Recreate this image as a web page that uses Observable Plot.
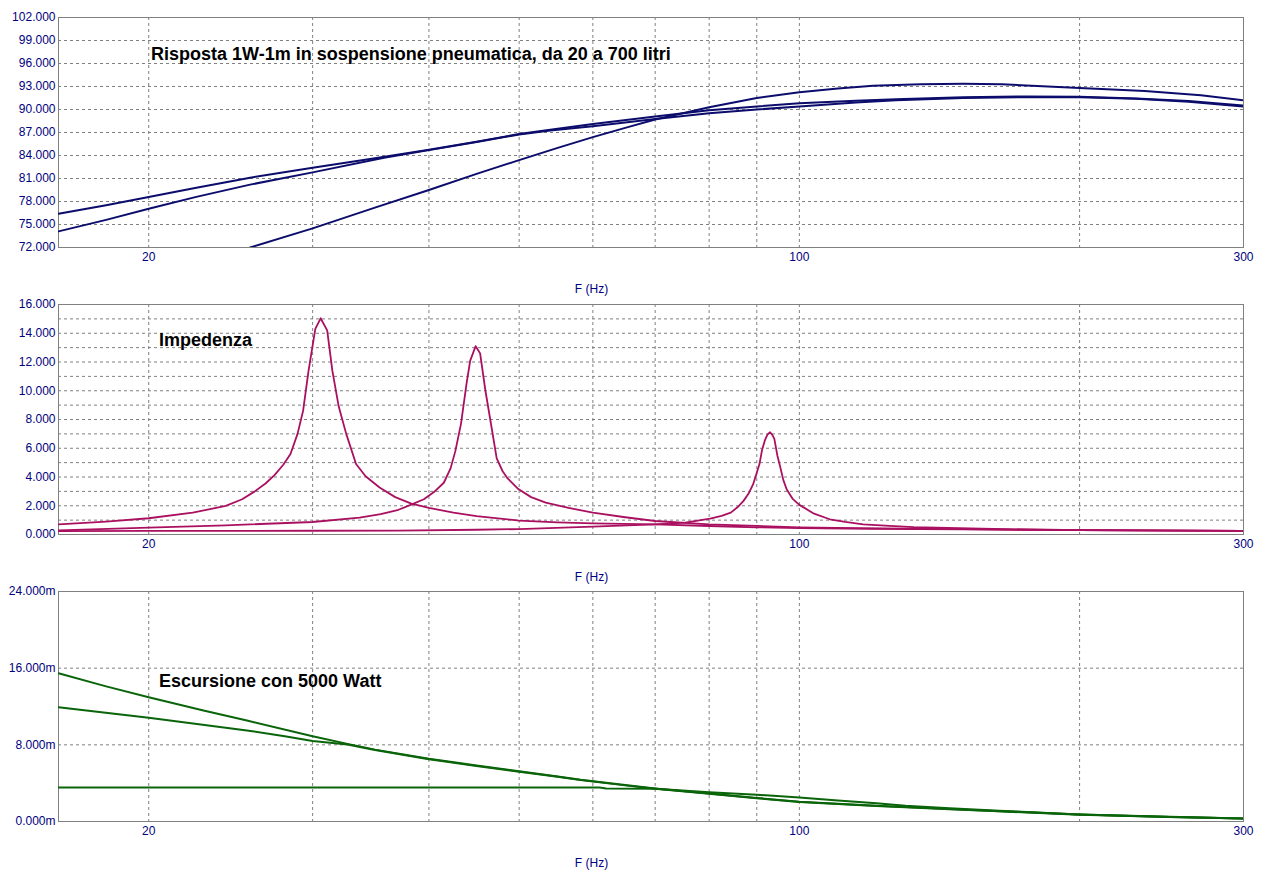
<!DOCTYPE html>
<html>
<head>
<meta charset="utf-8">
<script src="https://cdn.jsdelivr.net/npm/d3@7"></script>
<script src="https://cdn.jsdelivr.net/npm/@observablehq/plot@0.6"></script>
<style>
  html, body { margin: 0; padding: 0; background: #ffffff; }
  #root { position: relative; width: 1280px; height: 874px; overflow: hidden; background: #ffffff; }
  .panel { position: absolute; left: 0; width: 1280px; height: 300px; }
</style>
</head>
<body>
<div id="root">
  <div class="panel" id="p1" style="top:0px"></div>
  <div class="panel" id="p2" style="top:287px"></div>
  <div class="panel" id="p3" style="top:574px"></div>
</div>
<script>
// ---------- shared axis data ----------
const freqDomain = [16, 300];
const freqTicks = [20, 100, 300];
const freqGrid = [20, 30, 40, 50, 60, 70, 80, 90, 100, 200];
const xLabel = "F (Hz)";

// ---------- panel 1: SPL response (dB) ----------
const splTitle = "Risposta 1W-1m in sospensione pneumatica, da 20 a 700 litri";
const splDomain = [72, 102];
const splTicks = [72, 75, 78, 81, 84, 87, 90, 93, 96, 99, 102];
const splGrid = [75, 78, 81, 84, 87, 90, 93, 96, 99];
const splAFreq = [16, 18, 20, 22.5, 25.7, 30, 35, 40, 45, 50, 54, 60, 70, 80, 90, 100, 115, 127, 150, 175, 200, 230, 262, 300];
const splA     = [76.4, 77.5, 78.6, 79.8, 81.1, 82.4, 83.65, 84.74, 85.8, 86.8, 87.35, 88.1, 89.1, 89.9, 90.4, 90.8, 91.15, 91.35, 91.6, 91.7, 91.65, 91.45, 91.1, 90.5];
const splBFreq = [16, 18, 20, 22.5, 25.7, 30, 35.8, 40, 45, 50, 54, 60, 70, 80, 90, 100, 115, 127, 150, 175, 200, 230, 262, 300];
const splB     = [74.1, 75.6, 77.05, 78.6, 80.2, 81.8, 83.7, 84.7, 85.75, 86.75, 87.25, 87.8, 88.75, 89.5, 90.0, 90.4, 90.9, 91.2, 91.5, 91.6, 91.6, 91.4, 91.0, 90.4];
const splCFreq = [25.7, 30, 35, 40, 45, 50, 55, 60, 65, 70, 80, 90, 100, 110, 120, 135, 150, 165, 200, 235, 270, 300];
const splC     = [72.0, 74.5, 77.2, 79.5, 81.6, 83.4, 85.0, 86.4, 87.6, 88.7, 90.3, 91.5, 92.25, 92.75, 93.1, 93.3, 93.35, 93.3, 92.8, 92.4, 91.85, 91.2];

// ---------- panel 2: impedance ----------
const zTitle = "Impedenza";
const zDomain = [0, 16];
const zTicks = [0, 2, 4, 6, 8, 10, 12, 14, 16];
const zGrid = [1, 2, 3, 4, 5, 6, 7, 8, 9, 10, 11, 12, 13, 14, 15];
const z1Freq = [16, 18, 20, 22.3, 24.2, 25.2, 26.0, 26.7, 27.3, 27.9, 28.4, 28.9, 29.3, 29.7, 30.2, 30.6, 31.1, 31.5, 32.0, 32.6, 33.4, 34.2, 35.4, 36.8, 38.3, 40, 42.5, 45, 50, 55, 60, 70, 80, 90, 100, 120, 150, 200, 300];
const z1     = [0.71, 0.9, 1.13, 1.52, 1.99, 2.45, 3.0, 3.55, 4.13, 4.85, 5.6, 7.0, 8.6, 11.4, 14.3, 15.04, 14.2, 11.4, 8.9, 7.0, 4.9, 4.05, 3.27, 2.6, 2.15, 1.85, 1.52, 1.28, 0.97, 0.85, 0.77, 0.71, 0.59, 0.5, 0.45, 0.4, 0.35, 0.3, 0.25];
const z2Freq = [16, 20, 24.2, 30, 33.7, 35.5, 37.1, 38.4, 39.5, 40.5, 41.5, 42.2, 42.7, 43.3, 43.9, 44.3, 44.9, 45.4, 46.0, 46.7, 47.3, 48.0, 48.6, 49.9, 51.5, 53.4, 56.5, 60, 65, 70, 80, 90, 100, 120, 150, 200, 300];
const z2     = [0.29, 0.48, 0.64, 0.87, 1.17, 1.42, 1.72, 2.11, 2.45, 2.95, 3.6, 4.6, 5.8, 7.7, 10.5, 12.1, 13.1, 12.6, 10.0, 7.46, 5.3, 4.4, 3.9, 3.16, 2.6, 2.22, 1.85, 1.52, 1.2, 0.94, 0.71, 0.6, 0.5, 0.43, 0.37, 0.3, 0.25];
const z3Freq = [16, 20, 30, 37, 45, 50, 60, 70, 75.4, 80.2, 82.5, 84.4, 86.0, 87.1, 88.2, 89.2, 90.0, 90.6, 91.2, 91.8, 92.4, 93.0, 93.5, 94.0, 94.7, 95.4, 96.1, 96.9, 98.3, 100, 103.7, 107.8, 112, 117.1, 125, 132.7, 157, 200, 300];
const z3     = [0.24, 0.25, 0.26, 0.27, 0.33, 0.38, 0.55, 0.71, 0.83, 1.1, 1.3, 1.52, 1.95, 2.34, 2.85, 3.5, 4.3, 4.9, 5.9, 6.53, 6.95, 7.11, 6.95, 6.65, 5.5, 4.67, 3.8, 3.15, 2.5, 2.06, 1.45, 1.06, 0.88, 0.71, 0.6, 0.52, 0.4, 0.3, 0.25];

// ---------- panel 3: excursion (mm, shown with "m" = milli) ----------
const xTitle = "Escursione con 5000 Watt";
const excDomain = [0, 24];
const excTicks = [0, 8, 16, 24];
const excGrid = [8, 16];
const excAFreq = [16, 18, 20, 22.9, 25.5, 30, 32.7, 35, 40, 45, 50, 55, 58.2, 65, 70, 80, 90, 100, 110, 121, 130, 145, 164, 200, 250, 300];
const excA     = [15.47, 14.1, 12.97, 11.58, 10.54, 8.9, 8.1, 7.5, 6.54, 5.85, 5.25, 4.7, 4.35, 3.8, 3.45, 2.92, 2.46, 2.07, 1.85, 1.64, 1.5, 1.3, 1.08, 0.72, 0.48, 0.31];
const excBFreq = [16, 20, 25.5, 28, 30, 32.7, 35, 40, 45, 50, 55, 58.2, 65, 70, 80, 90, 100, 110, 121, 130, 145, 164, 200, 250, 300];
const excB     = [11.93, 10.82, 9.5, 8.9, 8.4, 8.03, 7.45, 6.5, 5.8, 5.2, 4.66, 4.32, 3.77, 3.42, 2.89, 2.43, 2.04, 1.82, 1.62, 1.48, 1.28, 1.06, 0.7, 0.48, 0.31];
const excCFreq = [16, 61, 62, 70, 80, 90, 100, 110, 121, 130, 145, 164, 200, 250, 300];
const excC     = [3.55, 3.55, 3.44, 3.41, 3.06, 2.8, 2.5, 2.2, 1.91, 1.65, 1.37, 1.12, 0.74, 0.5, 0.32];

// ---------- styling ----------
const axisColor = "#000080";
const gridColor = "#808080";
const navy = "#0c0c6c";
const crimson = "#aa1060";
const green = "#0a640a";
const fontFamily = "'Liberation Sans', Arial, Helvetica, sans-serif";

function toRows(freqs, vals) { return freqs.map((f, i) => ({f, v: vals[i]})); }

function makePanel({yDomain, yTicks, yGrid, yFormat, series, color, strokeWidth, title, titleDx, titleDy, xLabelDy}) {
  return Plot.plot({
    width: 1280, height: 300,
    marginTop: 17, marginBottom: 53, marginLeft: 58, marginRight: 37,
    style: {fontFamily, fontSize: "12px", color: axisColor, background: "transparent", overflow: "visible"},
    x: {type: "log", domain: freqDomain, label: null},
    y: {domain: yDomain, label: null},
    marks: [
      Plot.gridY(yGrid, {stroke: gridColor, strokeOpacity: 1, strokeDasharray: "3,3", strokeWidth: 1}),
      Plot.gridX(freqGrid, {stroke: gridColor, strokeOpacity: 1, strokeDasharray: "3,3", strokeWidth: 1}),
      Plot.frame({stroke: gridColor, strokeWidth: 1}),
      ...series.map(s => Plot.line(s, {x: "f", y: "v", stroke: color, strokeWidth, strokeLinejoin: "round", clip: true})),
      Plot.axisY(yTicks, {tickSize: 0, tickPadding: 3, tickFormat: yFormat, label: null, fontSize: 12, fill: axisColor}),
      Plot.axisX(freqTicks, {tickSize: 0, tickPadding: 5, tickFormat: d => String(d), label: null, fontSize: 12, fill: axisColor}),
      Plot.text([xLabel], {frameAnchor: "bottom", lineAnchor: "middle", dx: -59.5, dy: xLabelDy, fill: axisColor, fontSize: 12}),
      Plot.text([title], {frameAnchor: "top-left", lineAnchor: "middle", textAnchor: "start", dx: titleDx, dy: titleDy, fill: "#000000", fontSize: 18, fontWeight: "bold"})
    ]
  });
}

const fmt3 = d3.format(".3f");

document.getElementById("p1").append(makePanel({
  yDomain: splDomain, yTicks: splTicks, yGrid: splGrid, yFormat: fmt3,
  series: [toRows(splAFreq, splA), toRows(splBFreq, splB), toRows(splCFreq, splC)],
  color: navy, strokeWidth: 2,
  title: splTitle, titleDx: 92.5, titleDy: 37, xLabelDy: 41.5
}));

document.getElementById("p2").append(makePanel({
  yDomain: zDomain, yTicks: zTicks, yGrid: zGrid, yFormat: fmt3,
  series: [toRows(z1Freq, z1), toRows(z2Freq, z2), toRows(z3Freq, z3)],
  color: crimson, strokeWidth: 1.8,
  title: zTitle, titleDx: 100.5, titleDy: 35.5, xLabelDy: 42.5
}));

document.getElementById("p3").append(makePanel({
  yDomain: excDomain, yTicks: excTicks, yGrid: excGrid, yFormat: d => fmt3(d) + "m",
  series: [toRows(excAFreq, excA), toRows(excBFreq, excB), toRows(excCFreq, excC)],
  color: green, strokeWidth: 2,
  title: xTitle, titleDx: 100.5, titleDy: 89.5, xLabelDy: 42
}));
</script>
</body>
</html>
